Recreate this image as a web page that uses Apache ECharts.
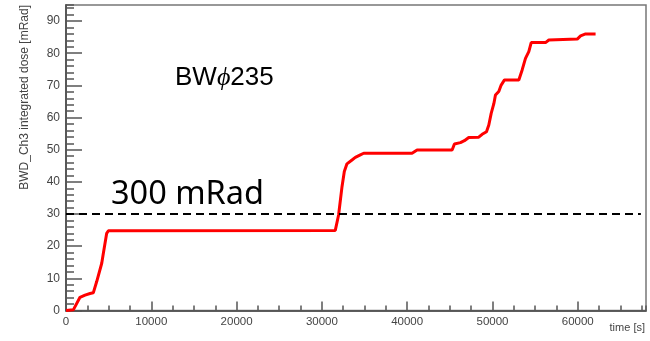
<!DOCTYPE html>
<html>
<head>
<meta charset="utf-8">
<script src="https://cdn.jsdelivr.net/npm/echarts@6/dist/echarts.min.js"></script>
<style>html,body{margin:0;padding:0;background:#fff}#c{width:650px;height:341px}</style>
</head>
<body>
<div id="c"></div>
<script>
// time [s]
const timeS = [0, 860, 1640, 2230, 2820, 3200, 3600, 4190, 4380, 4770, 4970,
  31570, 31960, 32360, 32630, 32940, 33530, 33920, 34510, 34900,
  40570, 41160, 45270, 45540, 46240, 46710, 47220, 48390, 48790, 49300,
  49570, 49850, 50160, 50350, 50740, 51020, 51410, 53090, 53480, 53870,
  54260, 54540, 56220, 56610, 59940, 60330, 60920, 62090];
// integrated dose [mRad]
const dose = [0, 0.2, 4.1, 4.8, 5.3, 5.5, 9.0, 14.7, 17.8, 24.0, 24.8,
  24.9, 29.7, 38.5, 43.2, 45.6, 46.8, 47.6, 48.4, 48.9,
  48.9, 49.9, 49.9, 51.8, 52.2, 52.8, 53.8, 53.9, 54.8, 55.6,
  57.7, 61.3, 64.3, 67.0, 68.1, 70.1, 71.7, 71.7, 74.8, 78.4,
  80.5, 83.3, 83.3, 84.1, 84.4, 85.4, 86.0, 86.0];
const threshold = 30;
const thresholdEnd = 67400;
const yTitle = 'BWD_Ch3 integrated dose [mRad]';
const xTitle = 'time [s]';
const labelText = '300 mRad';

const data = timeS.map((t, i) => [t, dose[i]]);
const chart = echarts.init(document.getElementById('c'), null, {renderer: 'canvas'});
const axisLineStyle = {show: true, onZero: false, lineStyle: {color: '#555', width: 1.5}};
const tickStyle = {color: '#555', width: 1.5};
chart.setOption({
  animation: false,
  backgroundColor: '#fff',
  grid: {left: 66, right: 4, top: 5, bottom: 30.5, show: true, borderColor: '#777', borderWidth: 1.5, backgroundColor: 'transparent'},
  xAxis: [
    {type: 'value', min: 0, max: 68000, interval: 2500, position: 'bottom', offset: 0,
     axisLine: axisLineStyle,
     axisTick: {show: true, inside: true, length: 5, lineStyle: tickStyle},
     axisLabel: {show: false}, splitLine: {show: false}},
    {type: 'value', min: 0, max: 68000, interval: 10000, position: 'bottom', offset: 0,
     axisLine: axisLineStyle,
     axisTick: {show: true, inside: true, length: 9, lineStyle: tickStyle},
     axisLabel: {margin: 5, showMaxLabel: false, fontSize: 11.5, color: '#444', fontFamily: 'Liberation Sans',
       formatter: v => String(v)},
     splitLine: {show: false}}
  ],
  yAxis: [
    {type: 'value', min: 0, max: 95, interval: 2, position: 'left', offset: 0,
     axisLine: axisLineStyle,
     axisTick: {show: true, inside: true, length: 8, lineStyle: tickStyle},
     axisLabel: {show: false}, splitLine: {show: false}},
    {type: 'value', min: 0, max: 95, interval: 10, position: 'left', offset: 0,
     axisLine: axisLineStyle,
     axisTick: {show: true, inside: true, length: 16, lineStyle: tickStyle},
     axisLabel: {margin: 6, showMaxLabel: false, fontSize: 12, color: '#444', fontFamily: 'Liberation Sans'},
     splitLine: {show: false}}
  ],
  series: [{
    type: 'line', data: data, xAxisIndex: 1, yAxisIndex: 1,
    showSymbol: false, symbol: 'none',
    lineStyle: {color: '#ff0000', width: 3}, itemStyle: {color: '#ff0000'},
    markLine: {
      silent: true, symbol: 'none', label: {show: false},
      lineStyle: {color: '#000', width: 2, type: [8, 5]},
      data: [[{coord: [0, threshold]}, {coord: [thresholdEnd, threshold]}]]
    }
  }],
  graphic: [
    {type: 'text', x: 25, y: 5, rotation: Math.PI / 2,
     style: {text: yTitle, fill: '#444', font: '12px "Liberation Sans"', align: 'right', verticalAlign: 'middle'}},
    {type: 'text', x: 645, y: 328,
     style: {text: xTitle, fill: '#444', font: '11px "Liberation Sans"', align: 'right', verticalAlign: 'middle'}},
    {type: 'text', x: 175, y: 78,
     style: {text: '{a|BW}{b|ϕ}{a|235}', verticalAlign: 'middle',
       rich: {a: {fontSize: 26, fontFamily: 'Liberation Sans', color: '#111'},
              b: {fontSize: 26, fontFamily: 'Liberation Serif', fontStyle: 'italic', color: '#111'}}}},
    {type: 'text', x: 111, y: 195,
     style: {text: labelText, fill: '#000', font: '32.5px "Noto Sans"', align: 'left', verticalAlign: 'middle'}}
  ]
});
</script>
</body>
</html>
